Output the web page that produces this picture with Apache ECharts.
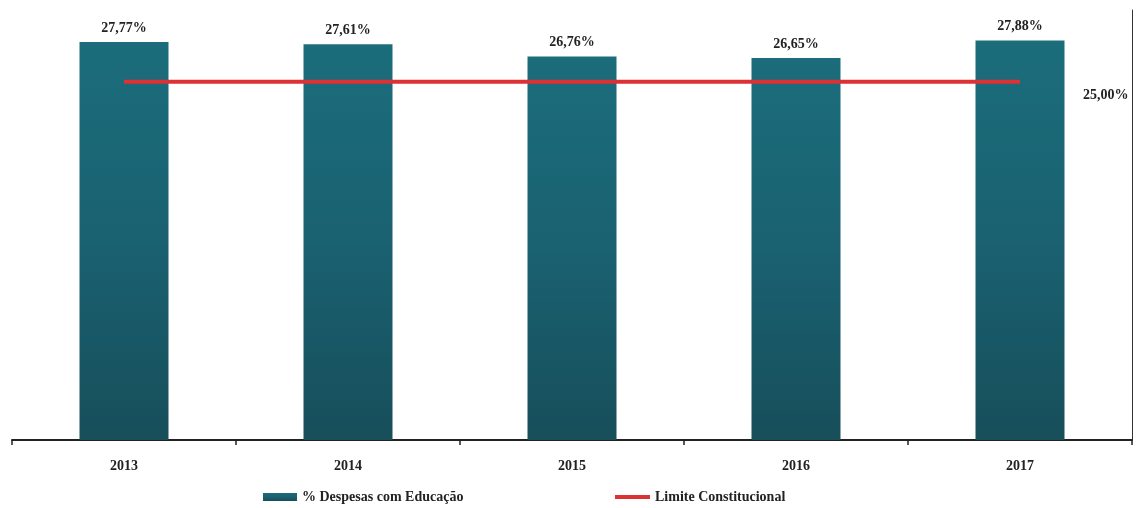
<!DOCTYPE html>
<html>
<head>
<meta charset="utf-8">
<script src="https://cdn.jsdelivr.net/npm/echarts@6/dist/echarts.min.js"></script>
<style>
html,body{margin:0;padding:0;background:#fff;}
#c{width:1141px;height:508px;}
</style>
</head>
<body>
<div id="c"></div>
<script>
var categories = ['2013', '2014', '2015', '2016', '2017'];
var despesas = [27.77, 27.61, 26.76, 26.65, 27.88];
var limite = [25.00, 25.00, 25.00, 25.00, 25.00];
var seriesNames = ['% Despesas com Educação', 'Limite Constitucional'];

function fmt(v) { return v.toFixed(2).replace('.', ',') + '%'; }

var font = 'Liberation Serif';
var chart = echarts.init(document.getElementById('c'));
chart.setOption({
  animation: false,
  backgroundColor: '#fff',
  grid: { left: 12, right: 9, top: 10, bottom: 68, containLabel: false },
  legend: [
    {
      data: [{ name: seriesNames[0], icon: 'rect' }], left: 258, top: 485, itemWidth: 34, itemHeight: 8, itemGap: 4,
      textStyle: { fontFamily: font, fontWeight: 'bold', fontSize: 14, color: '#222' }
    },
    {
      data: [{ name: seriesNames[1], icon: 'rect', itemStyle: { color: '#dc3235' } }], left: 610, top: 485, itemWidth: 35, itemHeight: 4, itemGap: 3,
      textStyle: { fontFamily: font, fontWeight: 'bold', fontSize: 14, color: '#222' }
    }
  ],
  xAxis: {
    type: 'category',
    data: categories,
    boundaryGap: true,
    axisLine: { show: true, lineStyle: { color: '#222', width: 2 } },
    axisTick: { show: true, length: 5, lineStyle: { color: '#222', width: 1.5 } },
    axisLabel: { fontFamily: font, fontWeight: 'bold', fontSize: 14, color: '#222', margin: 19 }
  },
  yAxis: {
    type: 'value',
    position: 'right',
    min: 0, max: 30,
    axisLine: { show: true, lineStyle: { color: '#333', width: 1 } },
    axisTick: { show: false },
    axisLabel: { show: false },
    splitLine: { show: false }
  },
  series: [
    {
      name: seriesNames[0],
      type: 'bar',
      data: despesas,
      barWidth: 89,
      itemStyle: {
        color: new echarts.graphic.LinearGradient(0, 0, 0, 1, [
          { offset: 0, color: '#1b6d7c' },
          { offset: 0.5, color: '#1a6171' },
          { offset: 1, color: '#174e5a' }
        ])
      },
      label: {
        show: true, position: 'top', distance: 7,
        formatter: function (p) { return fmt(p.value); },
        fontFamily: font, fontWeight: 'bold', fontSize: 14, color: '#222'
      }
    },
    {
      name: seriesNames[1],
      type: 'line',
      data: limite,
      symbol: 'none',
      lineStyle: { color: '#dc3235', width: 4 },
      itemStyle: { color: '#dc3235' },
      endLabel: {
        show: true, distance: 0, offset: [63, 14],
        formatter: function (p) { return fmt(p.value); },
        fontFamily: font, fontWeight: 'bold', fontSize: 14, color: '#222'
      }
    }
  ]
});
</script>
</body>
</html>
